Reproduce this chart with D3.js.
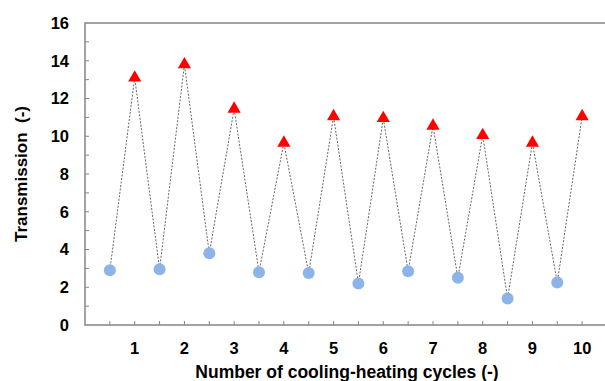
<!DOCTYPE html>
<html>
<head>
<meta charset="utf-8">
<script src="https://cdn.jsdelivr.net/npm/d3@7"></script>
<style>
  body { margin: 0; background: #fff; }
  svg text { font-family: Arial, "Liberation Sans", sans-serif; font-weight: bold; fill: #000; }
</style>
</head>
<body>
<div id="chart"></div>
<script>
// cooling points sit at half cycles, heating points at whole cycles
var coolX = [0.5, 1.5, 2.5, 3.5, 4.5, 5.5, 6.5, 7.5, 8.5, 9.5];
var coolT = [2.9, 2.95, 3.8, 2.8, 2.75, 2.2, 2.85, 2.5, 1.4, 2.25];
var heatX = [1, 2, 3, 4, 5, 6, 7, 8, 9, 10];
var heatT = [13.1, 13.8, 11.45, 9.65, 11.05, 10.95, 10.55, 10.05, 9.65, 11.05];
var xTicks = [1, 2, 3, 4, 5, 6, 7, 8, 9, 10];
var yTicks = [0, 2, 4, 6, 8, 10, 12, 14, 16];

var W = 605, H = 381;
var margin = {top: 23, right: -2, left: 85, bottom: 56},
    width = W - margin.left - margin.right,
    height = H - margin.top - margin.bottom;

var x = d3.scaleLinear().domain([0, 10.5]).range([0, width]);
var y = d3.scaleLinear().domain([0, 16]).range([height, 0]);

var svg = d3.select("#chart").append("svg")
    .attr("width", W)
    .attr("height", H)
  .append("g")
    .attr("transform", "translate(" + margin.left + "," + margin.top + ")");

var axisColor = "#858585";

// frame
svg.append("rect")
  .attr("x", 0).attr("y", 0)
  .attr("width", width).attr("height", height)
  .attr("fill", "none")
  .attr("stroke", axisColor)
  .attr("stroke-width", 1.5);

// inward minor ticks
svg.selectAll(".ytick").data(d3.range(1, 16))
  .enter().append("line")
  .attr("x1", 0).attr("x2", 4)
  .attr("y1", function(d) { return y(d); })
  .attr("y2", function(d) { return y(d); })
  .attr("stroke", axisColor).attr("stroke-width", 1);

svg.selectAll(".xtick").data(d3.range(0.5, 10.01, 0.5))
  .enter().append("line")
  .attr("x1", function(d) { return x(d); })
  .attr("x2", function(d) { return x(d); })
  .attr("y1", height).attr("y2", height - 4)
  .attr("stroke", axisColor).attr("stroke-width", 1);

// tick labels
svg.selectAll(".ylab").data(yTicks)
  .enter().append("text")
  .attr("x", -16)
  .attr("y", function(d) { return y(d); })
  .attr("dy", "0.36em")
  .attr("text-anchor", "end")
  .style("font-size", "16.5px")
  .text(function(d) { return d; });

svg.selectAll(".xlab").data(xTicks)
  .enter().append("text")
  .attr("x", function(d) { return x(d); })
  .attr("y", height + 23)
  .attr("dy", "0.36em")
  .attr("text-anchor", "middle")
  .style("font-size", "16.5px")
  .text(function(d) { return d; });

// axis titles
svg.append("text")
  .attr("text-anchor", "middle")
  .attr("transform", "translate(" + (347 - margin.left) + "," + (372 - margin.top) + ")")
  .attr("dy", "0.36em")
  .style("font-size", "17.5px")
  .text("Number of cooling-heating cycles (-)");

svg.append("text")
  .attr("text-anchor", "middle")
  .attr("transform", "translate(" + (21 - margin.left) + "," + (174 - margin.top) + ") rotate(-90)")
  .attr("dy", "0.36em")
  .style("font-size", "17px")
  .style("white-space", "pre")
  .text("Transmission  (-)");

// zigzag through all points in cycle order
var pts = [];
coolX.forEach(function(d, i) {
  pts.push([d, coolT[i]]);
  pts.push([heatX[i], heatT[i]]);
});

svg.append("path")
  .datum(pts)
  .attr("fill", "none")
  .attr("stroke", "#666")
  .attr("stroke-width", 1)
  .attr("stroke-dasharray", "2,1.5")
  .attr("d", d3.line()
    .x(function(d) { return x(d[0]); })
    .y(function(d) { return y(d[1]); }));

svg.selectAll(".cool").data(coolX)
  .enter().append("circle")
  .attr("cx", function(d) { return x(d); })
  .attr("cy", function(d, i) { return y(coolT[i]); })
  .attr("r", 6)
  .attr("fill", "#8db4e8");

var tri = d3.symbol().type(d3.symbolTriangle).size(75);
svg.selectAll(".heat").data(heatX)
  .enter().append("path")
  .attr("d", tri)
  .attr("transform", function(d, i) {
    return "translate(" + x(d) + "," + y(heatT[i]) + ")";
  })
  .attr("fill", "#ff0000");
</script>
</body>
</html>
